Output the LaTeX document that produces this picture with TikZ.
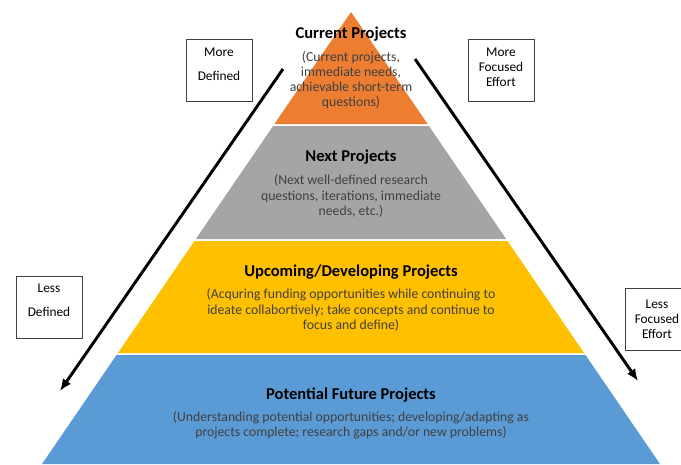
\documentclass[tikz,border=0pt]{standalone}
\usepackage{fontspec}
\setmainfont{Carlito}
\usetikzlibrary{arrows.meta}
\definecolor{layerorange}{HTML}{ED7D31}
\definecolor{layergray}{HTML}{A5A5A5}
\definecolor{layeryellow}{HTML}{FFC000}
\definecolor{layerblue}{HTML}{5B9BD5}
\definecolor{desctext}{HTML}{404040}
\begin{document}
\begin{tikzpicture}[x=0.75pt,y=-0.75pt,
    title/.style={font=\fontsize{12.4}{14}\selectfont\bfseries, text=black},
    desc/.style={font=\fontsize{10.3}{11.4}\selectfont, text=desctext, align=center},
    sidebox/.style={draw=desctext, fill=white, line width=0.6pt, minimum width=49.5pt, minimum height=46.5pt, align=center, font=\fontsize{10}{11.25}\selectfont, inner sep=1pt},
    trend/.style={line width=2.2pt, -{Latex[length=9pt,width=7.5pt]}}]
    \useasboundingbox (0,0) rectangle (681,464);
    \fill[layerorange] (351,12) -- (427.6,124) -- (274.4,124) -- cycle;
    \fill[layergray] (273.1,126) -- (428.9,126) -- (506.2,239) -- (195.8,239) -- cycle;
    \fill[layeryellow] (194.5,241) -- (507.5,241) -- (584.1,353) -- (117.9,353) -- cycle;
    \fill[layerblue] (116.5,355) -- (585.5,355) -- (660,464) -- (42,464) -- cycle;
    \node[title] (current) at (351,34.5) {Current Projects};
    \node[desc] (currentdesc) at (351,80) {(Current projects,\\immediate needs,\\achievable short-term\\questions)};
    \node[title] (next) at (351,157) {Next Projects};
    \node[desc] (nextdesc) at (351,196) {(Next well-defined research\\questions, iterations, immediate\\needs, etc.)};
    \node[title] (upcoming) at (351,272) {Upcoming/Developing Projects};
    \node[desc] (upcomingdesc) at (351,310) {(Acquring funding opportunities while continuing to\\ideate collabortively; take concepts and continue to\\focus and define)};
    \node[title] (potential) at (351,395.5) {Potential Future Projects};
    \node[desc] (potentialdesc) at (351,425.5) {(Understanding potential opportunities; developing/adapting as\\projects complete; research gaps and/or new problems)};
    \coordinate (lefttop) at (283,69);
    \coordinate (leftend) at (60,391);
    \coordinate (righttop) at (415,59);
    \coordinate (rightend) at (638,381);
    \draw[trend] (lefttop) -- (leftend);
    \draw[trend] (righttop) -- (rightend);
    \node[sidebox, text depth=9pt] (moredefined) at (219,70) {More\\[6.75pt]Defined};
    \node[sidebox, text depth=4.5pt] (morefocused) at (501,70) {More\\Focused\\Effort};
    \node[sidebox, text depth=10pt] (lessdefined) at (49,307) {Less\\[6.75pt]Defined};
    \node[sidebox, minimum width=48pt] (lessfocused) at (657,319) {Less\\Focused\\Effort};
\end{tikzpicture}
\end{document}
